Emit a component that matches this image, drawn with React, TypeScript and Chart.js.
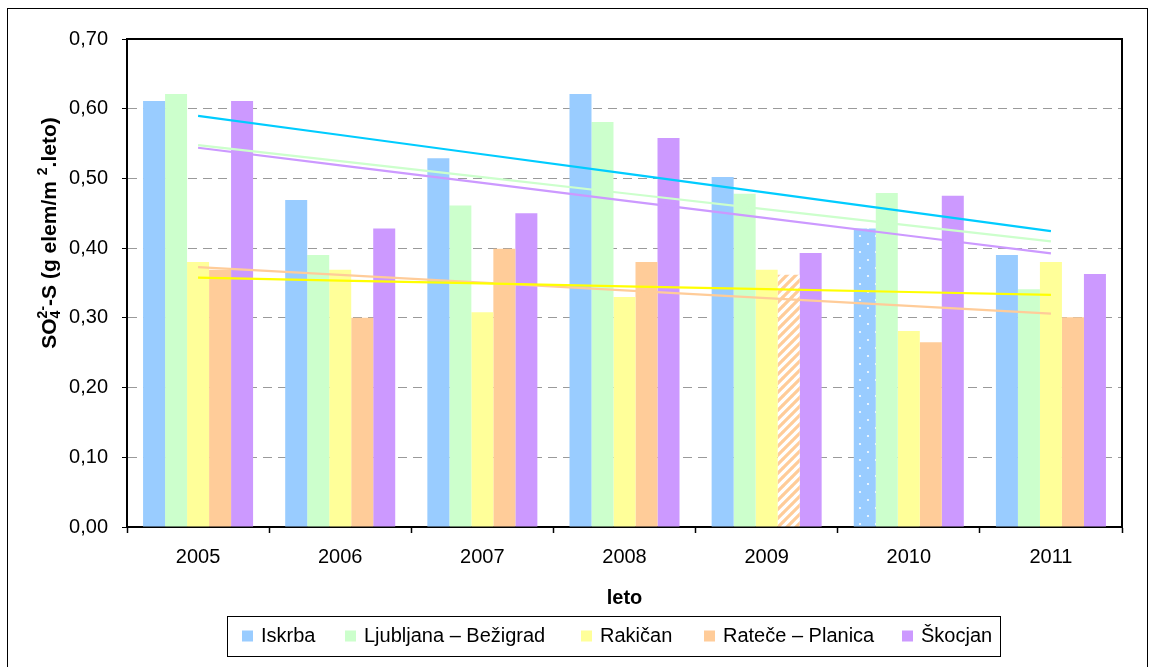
import React, { useEffect, useRef } from 'react';
import { Chart, registerables } from 'chart.js';

Chart.register(...registerables);

// ---------- data ----------
const years = ['2005', '2006', '2007', '2008', '2009', '2010', '2011'];
const iskrba = [0.611, 0.469, 0.529, 0.621, 0.502, 0.428, 0.39];
const ljubljana = [0.621, 0.39, 0.461, 0.581, 0.478, 0.479, 0.341];
const rakican = [0.38, 0.369, 0.308, 0.33, 0.369, 0.281, 0.38];
const ratece = [0.369, 0.3, 0.399, 0.38, 0.362, 0.265, 0.301];
const skocjan = [0.611, 0.428, 0.45, 0.558, 0.393, 0.475, 0.363];
const seriesNames = ['Iskrba', 'Ljubljana – Bežigrad', 'Rakičan', 'Rateče – Planica', 'Škocjan'];
const barColors = ['#99CCFF', '#CCFFCC', '#FFFF99', '#FFCC99', '#CC99FF'];
const trendColors = ['#00CCFF', '#CCFFCC', '#FFFF00', '#FFCC99', '#CC99FF'];
const yMin = 0;
const yMax = 0.7;
const yStep = 0.1;
const dottedIskrbaIndex = 5; // 2010
const hatchedRateceIndex = 4; // 2009
const xTitle = 'leto';

const FONT = "'Liberation Sans', Arial, sans-serif";
const LEGEND_X = [242, 345, 581, 704, 902];

// linear (least-squares) trend over category index
function trend(values: number[]): number[] {
  const n = values.length;
  const mx = (n - 1) / 2;
  const my = values.reduce((a, b) => a + b, 0) / n;
  let num = 0;
  let den = 0;
  values.forEach((v, i) => {
    num += (i - mx) * (v - my);
    den += (i - mx) * (i - mx);
  });
  const slope = num / den;
  return values.map((_, i) => my + slope * (i - mx));
}

function makeHatch(color: string): CanvasPattern | string {
  const c = document.createElement('canvas');
  const s = 9;
  c.width = s;
  c.height = s;
  const g = c.getContext('2d');
  if (!g) return color;
  g.fillStyle = '#FFFFFF';
  g.fillRect(0, 0, s, s);
  g.strokeStyle = color;
  g.lineWidth = 3.2;
  g.beginPath();
  for (let k = -1; k <= 1; k++) {
    g.moveTo(k * s - 1, s + 1);
    g.lineTo(k * s + s + 1, -1);
  }
  g.stroke();
  const p = g.createPattern(c, 'repeat');
  return p || color;
}

function makeDots(color: string): CanvasPattern | string {
  const c = document.createElement('canvas');
  const w = 16;
  const h = 16;
  c.width = w;
  c.height = h;
  const g = c.getContext('2d');
  if (!g) return color;
  g.fillStyle = color;
  g.fillRect(0, 0, w, h);
  g.fillStyle = 'rgba(255,255,255,0.95)';
  [[4, 4], [12, 12]].forEach(([x, y]) => {
    g.beginPath();
    g.arc(x, y, 1.1, 0, Math.PI * 2);
    g.fill();
  });
  const p = g.createPattern(c, 'repeat');
  return p || color;
}

const decorPlugin = {
  id: 'decor',
  afterDraw(chart: any) {
    const ctx = chart.ctx as CanvasRenderingContext2D;
    const area = chart.chartArea;
    ctx.save();

    // outer frame
    ctx.strokeStyle = '#000';
    ctx.lineWidth = 1;
    ctx.strokeRect(7.5, 8.5, 1140, 700);

    // plot area top/right frame
    ctx.lineWidth = 2;
    ctx.beginPath();
    ctx.moveTo(area.left, area.top);
    ctx.lineTo(area.right, area.top);
    ctx.lineTo(area.right, area.bottom);
    ctx.stroke();

    // x title
    ctx.fillStyle = '#000';
    ctx.font = `bold 20px ${FONT}`;
    ctx.textAlign = 'center';
    ctx.textBaseline = 'middle';
    ctx.fillText(xTitle, (area.left + area.right) / 2, 598);

    // y title (rotated, with sub/superscripts)
    ctx.save();
    ctx.translate(49, 233);
    ctx.rotate(-Math.PI / 2);
    const big = `bold 21px ${FONT}`;
    const small = `bold 14px ${FONT}`;
    ctx.textAlign = 'left';
    ctx.textBaseline = 'alphabetic';
    const measure = (t: string, f: string) => {
      ctx.font = f;
      return ctx.measureText(t).width;
    };
    const wSO = measure('SO', big);
    const wStack = Math.max(measure('2-', small), measure('4', small));
    const wMid = measure('-S (g elem/m ', big);
    const wSup = measure('2', small);
    const wEnd = measure('.leto)', big);
    const total = wSO + wStack + wMid + wSup + wEnd;
    let x = -total / 2;
    const base = 7;
    ctx.font = big;
    ctx.fillText('SO', x, base);
    x += wSO;
    ctx.font = small;
    ctx.fillText('2-', x, base - 9);
    ctx.fillText('4', x, base + 4);
    x += wStack;
    ctx.font = big;
    ctx.fillText('-S (g elem/m ', x, base);
    x += wMid;
    ctx.font = small;
    ctx.fillText('2', x, base - 9);
    x += wSup;
    ctx.font = big;
    ctx.fillText('.leto)', x, base);
    ctx.restore();

    // legend
    ctx.lineWidth = 1;
    ctx.strokeStyle = '#000';
    ctx.strokeRect(227.5, 616.5, 773, 40);
    ctx.font = `20px ${FONT}`;
    ctx.textAlign = 'left';
    ctx.textBaseline = 'middle';
    const ly = 636.5;
    seriesNames.forEach((name, i) => {
      const lx = LEGEND_X[i];
      ctx.fillStyle = barColors[i];
      ctx.fillRect(lx, ly - 6, 11, 11);
      ctx.fillStyle = '#000';
      ctx.fillText(name, lx + 19, ly);
    });

    ctx.restore();
  },
};

export default function App() {
  const ref = useRef<HTMLCanvasElement | null>(null);

  useEffect(() => {
    if (!ref.current) return;
    Chart.defaults.font.family = FONT;
    Chart.defaults.color = '#000';

    const seriesValues = [iskrba, ljubljana, rakican, ratece, skocjan];
    const dotted = makeDots(barColors[0]);
    const hatched = makeHatch(barColors[3]);

    const barSets = seriesValues.map((vals, i) => {
      let bg: any = barColors[i];
      if (i === 0) bg = vals.map((_, k) => (k === dottedIskrbaIndex ? dotted : barColors[0]));
      if (i === 3) bg = vals.map((_, k) => (k === hatchedRateceIndex ? hatched : barColors[3]));
      return {
        type: 'bar' as const,
        label: seriesNames[i],
        data: vals,
        backgroundColor: bg,
        borderWidth: 0,
        categoryPercentage: 0.774,
        barPercentage: 1,
        order: 1,
      };
    });
    const lineSets = seriesValues.map((vals, i) => ({
      type: 'line' as const,
      label: seriesNames[i] + ' trend',
      data: trend(vals),
      borderColor: trendColors[i],
      backgroundColor: trendColors[i],
      borderWidth: 2.2,
      pointRadius: 0,
      fill: false,
      tension: 0,
      order: 0,
    }));

    const chart = new Chart(ref.current, {
      type: 'bar',
      data: { labels: years, datasets: [...barSets, ...lineSets] as any },
      options: {
        responsive: false,
        animation: false,
        devicePixelRatio: 1,
        layout: { padding: { left: 0, top: 39, right: 28, bottom: 0 } },
        plugins: { legend: { display: false }, tooltip: { enabled: false } },
        scales: {
          x: {
            afterFit: (s: any) => {
              s.height = 140;
            },
            grid: {
              offset: true,
              drawOnChartArea: false,
              drawTicks: true,
              tickLength: 6,
              tickColor: '#000',
              tickWidth: 1.5,
            },
            border: { display: true, color: '#000', width: 2 },
            ticks: { font: { size: 20 }, color: '#000', padding: 12, maxRotation: 0 },
          },
          y: {
            min: yMin,
            max: yMax,
            afterFit: (s: any) => {
              s.width = 127;
            },
            grid: {
              color: '#9A9A9A',
              lineWidth: 1,
              drawTicks: true,
              tickLength: 5,
              tickColor: '#000',
              tickWidth: 1,
              tickBorderDash: [],
            },
            border: { display: true, color: '#000', width: 2, dash: [9, 6] },
            ticks: {
              stepSize: yStep,
              font: { size: 20 },
              color: '#000',
              padding: 14,
              callback: (v: any) => Number(v).toFixed(2).replace('.', ','),
            },
          },
        },
      },
      plugins: [decorPlugin],
    });

    return () => chart.destroy();
  }, []);

  return (
    <div style={{ position: 'fixed', left: 0, top: 0, width: 1150, height: 667, background: '#fff' }}>
      <canvas ref={ref} width={1150} height={667} style={{ display: 'block', width: 1150, height: 667 }} />
    </div>
  );
}
